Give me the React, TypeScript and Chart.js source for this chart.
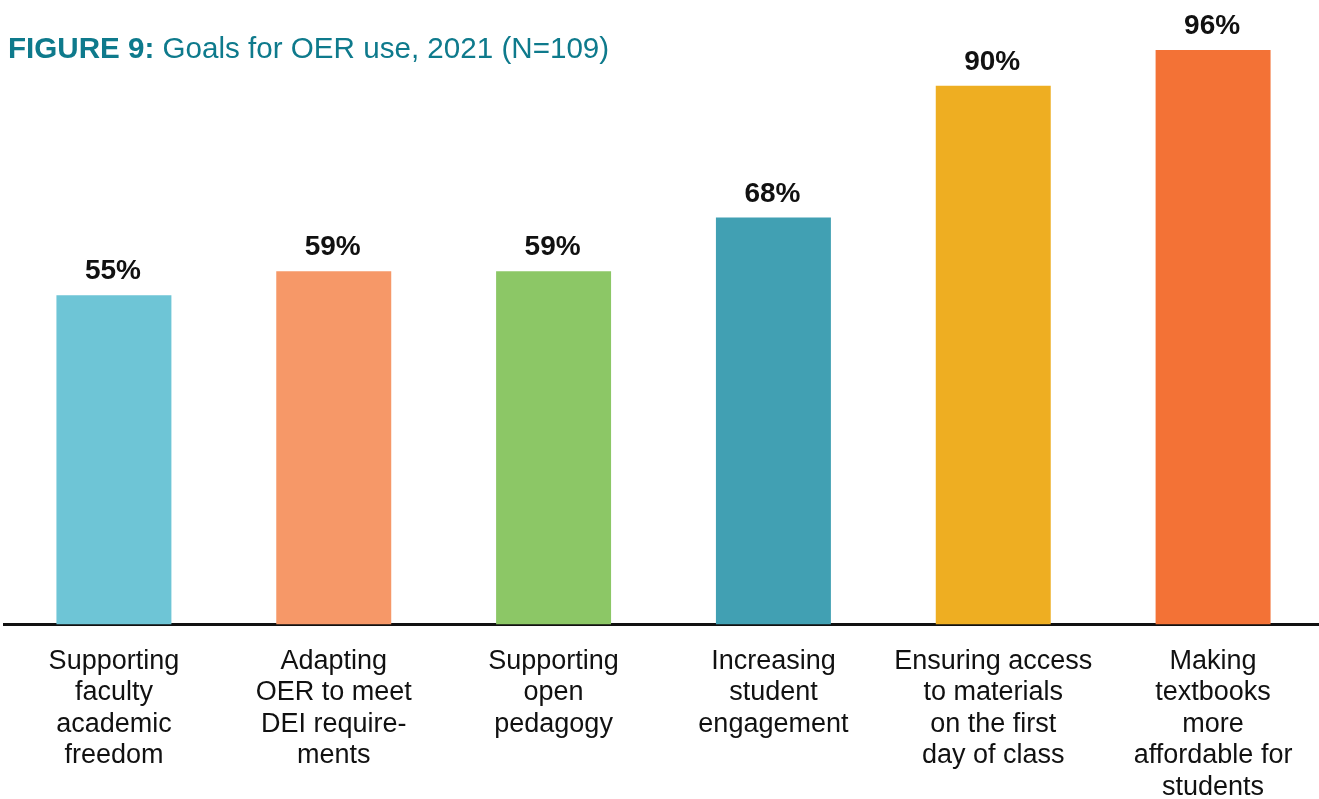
import React, { useEffect, useRef } from "react";
import { Chart, registerables } from "chart.js";

Chart.register(...registerables);

const categories: string[][] = [
  ["Supporting", "faculty", "academic", "freedom"],
  ["Adapting", "OER to meet", "DEI require-", "ments"],
  ["Supporting", "open", "pedagogy"],
  ["Increasing", "student", "engagement"],
  ["Ensuring access", "to materials", "on the first", "day of class"],
  ["Making", "textbooks", "more", "affordable for", "students"],
];
const values: number[] = [55, 59, 59, 68, 90, 96];
const barColors: string[] = ["#6EC5D6", "#F69868", "#8CC766", "#41A0B3", "#EEAE22", "#F37236"];
const titleBold = "FIGURE 9:";
const titleRest = " Goals for OER use, 2021 (N=109)";

const FONT = "'Liberation Sans', Arial, Helvetica, sans-serif";

const labelPlugin = {
  id: "valueLabels",
  afterDatasetsDraw(chart: any) {
    const ctx = chart.ctx;
    const meta = chart.getDatasetMeta(0);
    ctx.save();
    ctx.font = `bold 28px ${FONT}`;
    ctx.fillStyle = "#111111";
    ctx.textAlign = "center";
    ctx.textBaseline = "alphabetic";
    meta.data.forEach((bar: any, i: number) => {
      ctx.fillText(`${values[i]}%`, bar.x - 1, bar.y - 16);
    });
    ctx.restore();
  },
};

const titlePlugin = {
  id: "mixedTitle",
  afterDraw(chart: any) {
    const ctx = chart.ctx;
    ctx.save();
    ctx.fillStyle = "#0E7A8C";
    ctx.textBaseline = "alphabetic";
    ctx.textAlign = "left";
    ctx.font = `bold 29.6px ${FONT}`;
    ctx.fillText(titleBold, 8, 58);
    const w = ctx.measureText(titleBold).width;
    ctx.font = `29.6px ${FONT}`;
    ctx.fillText(titleRest, 8 + w, 58);
    ctx.restore();
  },
};

export default function App() {
  const ref = useRef<HTMLCanvasElement | null>(null);
  useEffect(() => {
    document.body.style.margin = "0";
    document.body.style.overflow = "hidden";
    const canvas = ref.current;
    if (!canvas) return;
    const chart = new Chart(canvas, {
      type: "bar",
      data: {
        labels: categories,
        datasets: [
          {
            data: values,
            backgroundColor: barColors,
            borderWidth: 0,
            categoryPercentage: 1,
            barPercentage: 0.523,
          },
        ],
      },
      options: {
        animation: false,
        responsive: false,
        maintainAspectRatio: false,
        layout: { padding: { top: 26, left: 4, right: 0, bottom: 0 } },
        plugins: {
          legend: { display: false },
          title: { display: false },
          tooltip: { enabled: false },
        },
        scales: {
          x: {
            grid: { display: false, drawTicks: false },
            border: { display: true, color: "#111111", width: 3 },
            ticks: {
              color: "#111111",
              font: { family: FONT, size: 27, lineHeight: 1.167 },
              padding: 21,
              maxRotation: 0,
              autoSkip: false,
            },
          },
          y: {
            display: false,
            min: 0,
            max: 100,
          },
        },
      },
      plugins: [labelPlugin, titlePlugin],
    });
    return () => chart.destroy();
  }, []);
  return (
    <div style={{ width: 1319, height: 799, overflow: "hidden" }}>
      <canvas ref={ref} width={1323} height={824} style={{ display: "block" }} />
    </div>
  );
}
